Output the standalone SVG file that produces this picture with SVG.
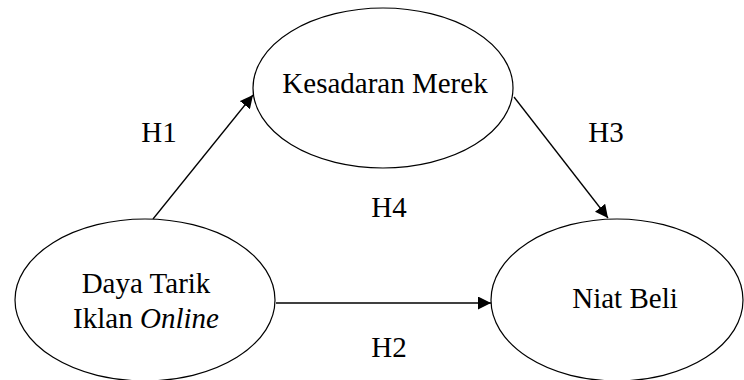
<svg xmlns="http://www.w3.org/2000/svg" width="744" height="380" viewBox="0 0 744 380">
<defs>
<style type="text/css">
.node ellipse{fill:#fff;stroke:#000;stroke-width:1.2}
.t{font-family:'Liberation Serif','Times New Roman',serif;font-size:29px;fill:#000}
.edge line{stroke:#000;stroke-width:1.3}
</style>
<marker id="ah" viewBox="0 0 10 10" refX="10" refY="5" markerWidth="13" markerHeight="13" markerUnits="userSpaceOnUse" orient="auto">
<path d="M0,0 L10,5 L0,10 Z" fill="#000"/>
</marker>
</defs>
<rect width="744" height="380" fill="#fff"/>
<g id="connectors" class="edge">
<line x1="153" y1="219" x2="253" y2="95" marker-end="url(#ah)"/>
<line x1="276" y1="303" x2="491" y2="303" marker-end="url(#ah)"/>
<line x1="514" y1="97" x2="608" y2="218" marker-end="url(#ah)"/>
</g>
<g id="kesadaran" class="node">
<ellipse cx="383" cy="88" rx="130" ry="80"/>
<text class="t" x="385" y="93" text-anchor="middle">Kesadaran Merek</text>
</g>
<g id="dayatarik" class="node">
<ellipse cx="145" cy="300" rx="130" ry="81"/>
<text class="t" x="146" y="293" text-anchor="middle">Daya Tarik</text>
<text class="t" x="146" y="328" text-anchor="middle">Iklan <tspan font-style="italic">Online</tspan></text>
</g>
<g id="niatbeli" class="node">
<ellipse cx="617" cy="300" rx="126" ry="81"/>
<text class="t" x="625" y="308" text-anchor="middle">Niat Beli</text>
</g>
<g id="labels">
<text class="t" x="159" y="142" text-anchor="middle">H1</text>
<text class="t" x="389" y="357" text-anchor="middle">H2</text>
<text class="t" x="606" y="142" text-anchor="middle">H3</text>
<text class="t" x="389" y="217" text-anchor="middle">H4</text>
</g>
</svg>
